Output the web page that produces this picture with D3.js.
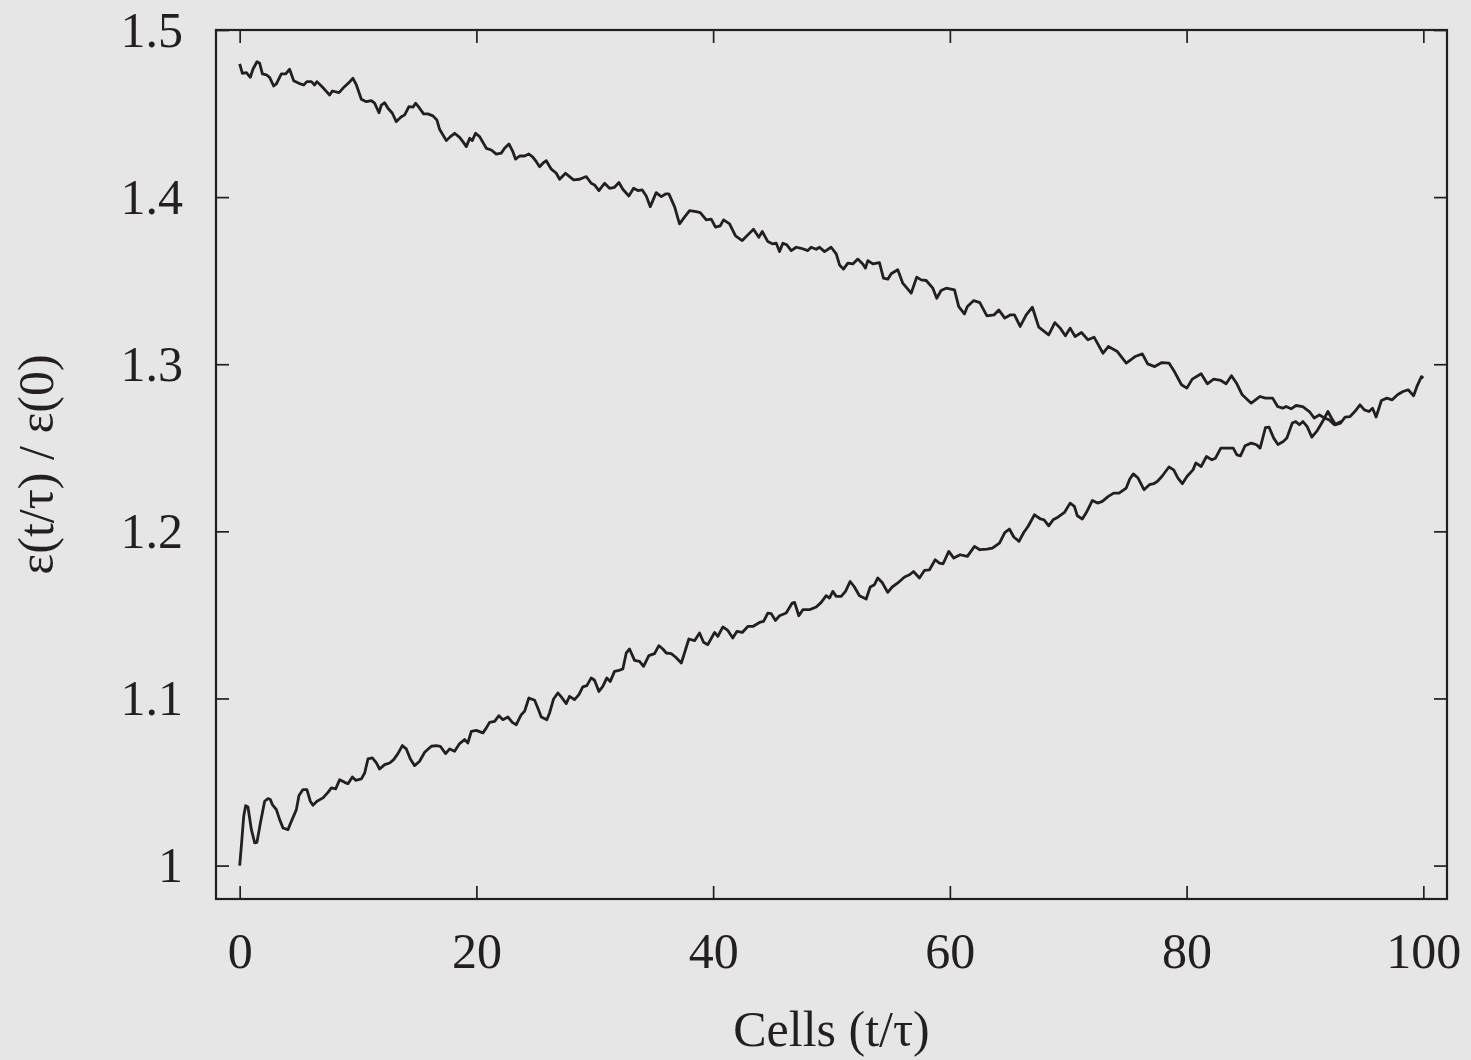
<!DOCTYPE html>
<html>
<head>
<meta charset="utf-8">
<script src="https://cdn.jsdelivr.net/npm/d3@7"></script>
<style>
  html, body { margin: 0; padding: 0; background: #e6e6e6; }
  svg { display: block; }
  .axis text { font-family: "Liberation Serif", "Times New Roman", serif; font-size: 50px; fill: #231f20; }
  .axis line { stroke: #231f20; stroke-width: 1.7; }
  .axis path { display: none; }
</style>
</head>
<body>
<svg id="chart" width="1471" height="1060"></svg>
<script>
// Ticks
const xTicks = [0, 20, 40, 60, 80, 100];
const yTicks = [1, 1.1, 1.2, 1.3, 1.4, 1.5];
const yTickLabels = ['1', '1.1', '1.2', '1.3', '1.4', '1.5'];

// Upper run (starts high, relaxes down)
const upperX = [0, 0.23, 0.57, 0.90, 1.12, 1.46, 1.69, 1.92, 2.26, 2.53, 2.87, 3.10, 3.52, 3.89, 4.22, 4.56, 5.01, 5.41, 5.68, 6.06,
  6.33, 6.53, 7.09, 7.60, 7.83, 8.39, 8.72, 9.01, 9.23, 9.57, 9.86, 10.28, 10.70, 11.12, 11.40, 11.77, 11.97, 12.25, 12.53, 12.90,
  13.23, 13.66, 13.94, 14.30, 14.64, 14.86, 15.20, 15.54, 15.90, 16.33, 16.66, 16.89, 17.46, 17.80, 18.16, 18.58, 18.92, 19.15, 19.43, 19.65,
  19.93, 20.27, 20.84, 21.26, 21.68, 22.10, 22.38, 22.75, 23.08, 23.31, 23.65, 24.07, 24.43, 24.77, 25.06, 25.34, 25.62, 25.90, 26.33, 26.75,
  27.03, 27.53, 27.87, 28.21, 28.72, 29.28, 29.70, 29.98, 30.35, 30.83, 31.25, 31.67, 32.04, 32.37, 32.88, 33.28, 33.64, 34.01, 34.35, 34.69,
  35.19, 35.62, 35.98, 36.26, 36.74, 37.16, 37.58, 38.01, 38.57, 38.91, 39.42, 39.84, 40.20, 40.60, 40.88, 41.39, 41.89, 42.46, 42.93, 43.41,
  43.86, 44.15, 44.62, 45.04, 45.33, 45.61, 45.89, 46.23, 46.60, 47.02, 47.44, 48.00, 48.28, 48.71, 48.99, 49.41, 49.97, 50.40, 50.68, 51.01,
  51.38, 51.80, 52.22, 52.64, 52.87, 53.07, 53.49, 54.05, 54.39, 54.76, 55.04, 55.60, 56.02, 56.73, 57.20, 57.58, 58.00, 58.56, 58.89, 59.26,
  59.69, 60.39, 60.75, 61.23, 61.48, 62.02, 62.53, 63.13, 63.73, 64.13, 64.64, 65.09, 65.46, 65.94, 66.45, 66.97, 67.51, 68.35, 68.87, 69.32,
  69.76, 70.16, 70.58, 71.12, 71.67, 72.18, 72.94, 73.39, 74.15, 74.90, 75.65, 76.26, 76.71, 77.31, 77.91, 78.51, 78.97, 79.57, 80.02, 80.48,
  81.23, 81.75, 82.29, 82.89, 83.34, 83.79, 84.25, 84.70, 85.46, 86.21, 86.66, 87.27, 87.69, 88.12, 88.40, 88.83, 89.25, 89.81, 90.37, 90.79,
  91.22, 91.64, 92.06, 92.48, 93.05];
const upperY = [1.4797, 1.4741, 1.4745, 1.4717, 1.4765, 1.4810, 1.4801, 1.4737, 1.4731, 1.4717, 1.4665, 1.4677, 1.4737, 1.4737, 1.4765, 1.4697, 1.4681, 1.4671, 1.4691, 1.4691,
  1.4671, 1.4691, 1.4651, 1.4611, 1.4635, 1.4625, 1.4651, 1.4671, 1.4685, 1.4711, 1.4671, 1.4586, 1.4571, 1.4577, 1.4562, 1.4505, 1.4551, 1.4565, 1.4532, 1.4502,
  1.4452, 1.4481, 1.4492, 1.4541, 1.4538, 1.4562, 1.4532, 1.4498, 1.4498, 1.4486, 1.4462, 1.4406, 1.4338, 1.4362, 1.4382, 1.4358, 1.4326, 1.4302, 1.4352, 1.4338,
  1.4382, 1.4362, 1.4292, 1.4282, 1.4257, 1.4263, 1.4292, 1.4318, 1.4272, 1.4227, 1.4246, 1.4246, 1.4258, 1.4239, 1.4212, 1.4182, 1.4203, 1.4218, 1.4167, 1.4143,
  1.4107, 1.4143, 1.4123, 1.4103, 1.4107, 1.4123, 1.4083, 1.4073, 1.4039, 1.4083, 1.4053, 1.4059, 1.4087, 1.4047, 1.4007, 1.4053, 1.4039, 1.4043, 1.4007, 1.3943,
  1.4027, 1.4003, 1.4019, 1.4019, 1.3943, 1.3840, 1.3880, 1.3919, 1.3913, 1.3907, 1.3864, 1.3868, 1.3820, 1.3828, 1.3864, 1.3840, 1.3768, 1.3740, 1.3774, 1.3808,
  1.3760, 1.3794, 1.3734, 1.3720, 1.3724, 1.3674, 1.3724, 1.3714, 1.3680, 1.3700, 1.3694, 1.3680, 1.3700, 1.3688, 1.3700, 1.3674, 1.3700, 1.3660, 1.3594, 1.3569,
  1.3605, 1.3600, 1.3629, 1.3600, 1.3575, 1.3620, 1.3600, 1.3608, 1.3515, 1.3509, 1.3541, 1.3565, 1.3485, 1.3425, 1.3521, 1.3505, 1.3501, 1.3455, 1.3395, 1.3441,
  1.3455, 1.3445, 1.3345, 1.3301, 1.3345, 1.3381, 1.3369, 1.3289, 1.3295, 1.3325, 1.3276, 1.3295, 1.3295, 1.3226, 1.3295, 1.3341, 1.3222, 1.3176, 1.3249, 1.3216,
  1.3170, 1.3216, 1.3166, 1.3190, 1.3146, 1.3162, 1.3066, 1.3106, 1.3076, 1.3007, 1.3046, 1.3062, 1.3002, 1.2986, 1.3010, 1.3007, 1.2956, 1.2877, 1.2857, 1.2911,
  1.2943, 1.2883, 1.2911, 1.2903, 1.2883, 1.2931, 1.2883, 1.2817, 1.2767, 1.2807, 1.2797, 1.2797, 1.2747, 1.2737, 1.2747, 1.2733, 1.2753, 1.2747, 1.2717, 1.2678,
  1.2697, 1.2678, 1.2667, 1.2638, 1.2657];

// Lower run (starts at 1, rises)
const lowerX = [0, 0.14, 0.34, 0.51, 0.70, 0.99, 1.27, 1.46, 1.75, 2.11, 2.39, 2.59, 2.76, 3.10, 3.38, 3.66, 4.08, 4.37, 4.79, 5.01,
  5.35, 5.68, 5.97, 6.19, 6.53, 7.04, 7.46, 7.75, 8.11, 8.45, 8.87, 9.15, 9.52, 9.80, 10.28, 10.56, 10.84, 11.21, 11.55, 11.82,
  12.25, 12.67, 13.01, 13.37, 13.74, 14.08, 14.42, 14.78, 15.20, 15.63, 16.19, 16.61, 16.95, 17.40, 17.74, 18.16, 18.58, 19.00, 19.28, 19.57,
  19.99, 20.55, 20.84, 21.11, 21.54, 21.90, 22.24, 22.66, 23.03, 23.37, 23.79, 24.07, 24.43, 24.92, 25.19, 25.48, 25.95, 26.18, 26.52, 26.88,
  27.17, 27.59, 27.87, 28.29, 28.66, 28.99, 29.33, 29.70, 29.98, 30.35, 30.68, 31.02, 31.31, 31.67, 32.04, 32.37, 32.66, 32.94, 33.36, 33.78,
  34.12, 34.57, 35.05, 35.41, 35.75, 36.04, 36.46, 36.82, 37.31, 37.58, 37.95, 38.43, 38.85, 39.19, 39.55, 40.12, 40.40, 40.82, 41.24, 41.66,
  42.00, 42.46, 42.93, 43.35, 43.92, 44.26, 44.62, 44.91, 45.27, 45.61, 46.17, 46.68, 46.88, 47.24, 47.58, 48.14, 48.71, 49.13, 49.55, 49.83,
  50.11, 50.40, 50.82, 51.18, 51.58, 51.94, 52.36, 52.93, 53.27, 53.63, 53.91, 54.28, 54.75, 55.13, 55.60, 56.17, 56.59, 56.93, 57.43, 57.85,
  58.28, 58.76, 59.12, 59.43, 59.91, 60.33, 60.87, 61.48, 62.08, 62.53, 63.13, 63.59, 64.19, 64.64, 65.03, 65.40, 65.84, 66.24, 66.60, 67.15,
  67.66, 67.96, 68.35, 68.72, 69.16, 69.68, 70.16, 70.52, 70.77, 71.19, 71.58, 72.04, 72.48, 72.88, 73.39, 73.84, 74.29, 74.90, 75.20, 75.50,
  75.90, 76.40, 76.86, 77.22, 77.52, 77.91, 78.51, 78.91, 79.27, 79.64, 80.03, 80.54, 80.78, 81.23, 81.68, 82.14, 82.44, 82.89, 83.34, 83.94,
  84.25, 84.55, 84.94, 85.46, 85.91, 86.21, 86.66, 86.96, 87.36, 87.72, 88.17, 88.47, 88.93, 89.22, 89.53, 89.83, 90.19, 90.58, 91.04, 91.49,
  91.94, 92.24, 92.60, 93.00, 93.39, 93.81, 94.21, 94.65, 95.02, 95.41, 95.71, 96.01, 96.46, 96.92, 97.37, 97.82, 98.28, 98.72, 99.18, 99.48,
  99.84, 100];
const lowerY = [1.0000, 1.0115, 1.0295, 1.0359, 1.0351, 1.0215, 1.0136, 1.0139, 1.0255, 1.0385, 1.0401, 1.0395, 1.0365, 1.0335, 1.0275, 1.0225, 1.0215, 1.0265, 1.0335, 1.0419,
  1.0455, 1.0455, 1.0385, 1.0361, 1.0385, 1.0405, 1.0438, 1.0465, 1.0459, 1.0514, 1.0498, 1.0490, 1.0530, 1.0510, 1.0519, 1.0554, 1.0638, 1.0644, 1.0614, 1.0578,
  1.0604, 1.0614, 1.0634, 1.0670, 1.0718, 1.0698, 1.0638, 1.0598, 1.0624, 1.0678, 1.0714, 1.0718, 1.0714, 1.0670, 1.0698, 1.0684, 1.0730, 1.0754, 1.0734, 1.0803,
  1.0809, 1.0794, 1.0824, 1.0857, 1.0863, 1.0897, 1.0873, 1.0889, 1.0857, 1.0843, 1.0903, 1.0923, 1.1003, 1.0989, 1.0943, 1.0889, 1.0873, 1.0913, 1.0997, 1.1033,
  1.1009, 1.0969, 1.1013, 1.0993, 1.1023, 1.1069, 1.1077, 1.1123, 1.1109, 1.1042, 1.1072, 1.1123, 1.1102, 1.1162, 1.1168, 1.1176, 1.1272, 1.1296, 1.1228, 1.1222,
  1.1192, 1.1256, 1.1268, 1.1316, 1.1296, 1.1272, 1.1268, 1.1248, 1.1212, 1.1272, 1.1356, 1.1346, 1.1392, 1.1336, 1.1322, 1.1395, 1.1371, 1.1428, 1.1407, 1.1362,
  1.1401, 1.1395, 1.1431, 1.1431, 1.1455, 1.1461, 1.1511, 1.1507, 1.1467, 1.1495, 1.1511, 1.1571, 1.1575, 1.1495, 1.1531, 1.1531, 1.1547, 1.1575, 1.1615, 1.1601,
  1.1641, 1.1611, 1.1611, 1.1641, 1.1700, 1.1667, 1.1615, 1.1595, 1.1667, 1.1681, 1.1721, 1.1694, 1.1635, 1.1667, 1.1691, 1.1727, 1.1740, 1.1760, 1.1721, 1.1766,
  1.1770, 1.1830, 1.1810, 1.1806, 1.1880, 1.1840, 1.1860, 1.1850, 1.1910, 1.1890, 1.1894, 1.1900, 1.1930, 1.1993, 1.2014, 1.1966, 1.1940, 1.1993, 1.2029, 1.2099,
  1.2074, 1.2069, 1.2033, 1.2069, 1.2086, 1.2113, 1.2169, 1.2149, 1.2093, 1.2074, 1.2119, 1.2185, 1.2169, 1.2179, 1.2209, 1.2229, 1.2229, 1.2259, 1.2313, 1.2344,
  1.2319, 1.2249, 1.2279, 1.2285, 1.2298, 1.2328, 1.2385, 1.2368, 1.2319, 1.2285, 1.2328, 1.2368, 1.2409, 1.2388, 1.2448, 1.2428, 1.2438, 1.2498, 1.2498, 1.2498,
  1.2458, 1.2452, 1.2512, 1.2528, 1.2518, 1.2498, 1.2620, 1.2624, 1.2558, 1.2520, 1.2538, 1.2558, 1.2648, 1.2657, 1.2638, 1.2657, 1.2627, 1.2564, 1.2603, 1.2657,
  1.2717, 1.2678, 1.2638, 1.2648, 1.2684, 1.2687, 1.2717, 1.2757, 1.2727, 1.2717, 1.2737, 1.2684, 1.2783, 1.2797, 1.2787, 1.2817, 1.2837, 1.2847, 1.2811, 1.2871,
  1.2926, 1.2917];

const W = 1471, H = 1060;
const plot = { left: 216, right: 1447, top: 30, bottom: 899 };

const svg = d3.select('#chart');
svg.append('rect').attr('width', W).attr('height', H).attr('fill', '#e6e6e6');

const x = d3.scaleLinear().domain([-2, 102]).range([plot.left, plot.right]);
const y = d3.scaleLinear().domain([0.98, 1.5]).range([plot.bottom, plot.top]);

const tickLen = 13;

// Bottom axis with labels, inward ticks
svg.append('g').attr('class', 'axis')
    .attr('transform', `translate(0,${plot.bottom})`)
    .call(d3.axisBottom(x).tickValues(xTicks).tickSizeInner(-tickLen).tickSizeOuter(0).tickPadding(33).tickFormat(d3.format('d')));

// Left axis with labels
svg.append('g').attr('class', 'axis')
    .attr('transform', `translate(${plot.left},0)`)
    .call(d3.axisLeft(y).tickValues(yTicks).tickSizeInner(-tickLen).tickSizeOuter(0).tickPadding(33)
        .tickFormat((d, i) => yTickLabels[i]));

// Mirrored ticks on top and right
svg.append('g').attr('class', 'axis')
    .attr('transform', `translate(0,${plot.top})`)
    .call(d3.axisTop(x).tickValues(xTicks).tickSizeInner(-tickLen).tickSizeOuter(0).tickFormat(''));
svg.append('g').attr('class', 'axis')
    .attr('transform', `translate(${plot.right},0)`)
    .call(d3.axisRight(y).tickValues(yTicks).tickSizeInner(-tickLen).tickSizeOuter(0).tickFormat(''));

// Frame
svg.append('rect')
    .attr('x', plot.left).attr('y', plot.top)
    .attr('width', plot.right - plot.left).attr('height', plot.bottom - plot.top)
    .attr('fill', 'none').attr('stroke', '#231f20').attr('stroke-width', 2.2);

// Series
const line = d3.line().x(d => x(d[0])).y(d => y(d[1]));
const series = [d3.zip(upperX, upperY), d3.zip(lowerX, lowerY)];
svg.append('g').selectAll('path').data(series).join('path')
    .attr('d', line)
    .attr('fill', 'none')
    .attr('stroke', '#231f20')
    .attr('stroke-width', 2.8)
    .attr('stroke-linejoin', 'round');

// Axis titles
svg.append('text')
    .attr('x', (plot.left + plot.right) / 2)
    .attr('y', 1046)
    .attr('text-anchor', 'middle')
    .attr('font-family', '"Liberation Serif", "Times New Roman", serif')
    .attr('font-size', 50)
    .attr('fill', '#231f20')
    .text('Cells (t/τ)');

svg.append('text')
    .attr('transform', `translate(53,${(plot.top + plot.bottom) / 2}) rotate(-90)`)
    .attr('text-anchor', 'middle')
    .attr('font-family', '"Liberation Serif", "Times New Roman", serif')
    .attr('font-size', 50)
    .attr('fill', '#231f20')
    .text('ε(t/τ) / ε(0)');
</script>
</body>
</html>
